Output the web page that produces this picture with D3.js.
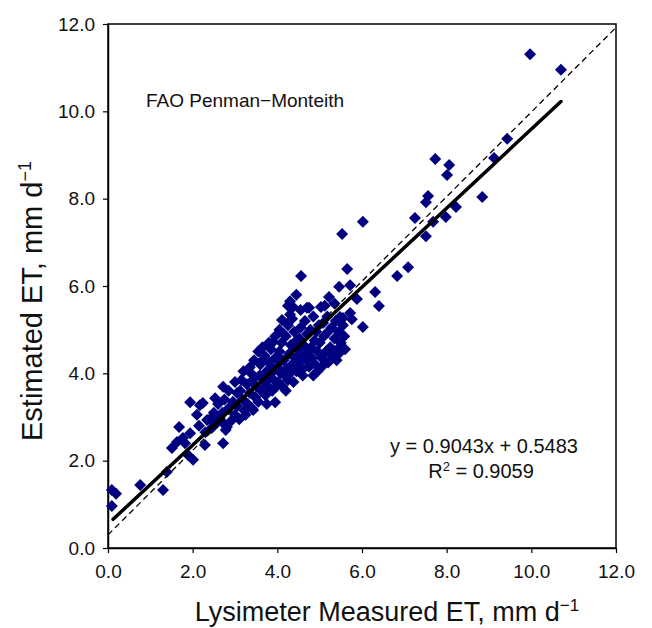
<!DOCTYPE html>
<html><head><meta charset="utf-8">
<script src="https://cdn.jsdelivr.net/npm/d3@7"></script>
<style>body{margin:0;background:#fff}svg{display:block}</style>
</head><body><svg id="chart" width="652" height="628"></svg>
<script>
// ---- data ----
const xTicks = [0, 2, 4, 6, 8, 10, 12];
const yTicks = [0, 2, 4, 6, 8, 10, 12];
const measuredET = [
  9.97,10.70,9.43,9.12,7.73,8.06,8.01,7.56,7.51,8.22,8.84,7.98,7.68,7.25,7.51,6.02,5.53,7.09,6.83,5.65,
  4.56,5.72,5.46,6.31,5.88,5.22,6.40,5.03,5.72,5.76,6.02,5.48,4.37,4.70,4.11,5.55,3.90,3.66,3.35,2.72,
  2.24,3.95,3.43,2.72,
  0.09,0.19,0.09,0.76,1.30,1.39,1.68,1.94,2.17,2.10,1.51,1.63,1.77,1.94,1.82,2.01,2.29,1.89,2.72,2.81,
  2.57,2.34,2.53,3.05,
  2.62,2.70,2.78,2.85,2.90,2.95,3.00,2.75,
  3.05,3.10,3.12,3.18,3.22,3.28,3.30,3.35,3.40,3.42,3.48,3.50,3.15,3.25,3.38,
  3.55,3.58,3.60,3.62,3.68,3.70,3.72,3.75,3.78,3.80,3.82,3.85,3.88,3.90,3.92,3.95,3.98,3.65,3.75,3.85,
  4.00,4.02,4.05,4.08,4.10,4.12,4.15,4.18,4.20,4.22,4.25,4.28,4.30,4.32,4.35,4.38,4.40,4.42,4.45,4.48,
  4.05,4.15,4.25,4.35,4.45,4.20,4.30,4.10,
  4.50,4.52,4.55,4.58,4.60,4.62,4.65,4.68,4.70,4.72,4.75,4.78,4.80,4.82,4.85,4.88,4.90,4.92,4.95,4.98,
  4.55,4.75,4.60,
  5.00,5.05,5.08,5.10,5.15,5.18,5.20,5.25,5.28,5.30,5.35,5.38,5.42,5.45,5.50,5.55,5.58,5.12,5.35,5.40,
  2.45,2.50,2.40,2.30,2.15,2.60,4.30,4.45,
  4.85,5.05,5.20,4.95,5.60,5.45,
  3.55,3.45,3.20,3.00,2.85,4.25,3.95,3.80
];
const estimatedET = [
  11.31,10.95,9.37,8.93,8.91,8.77,8.54,8.06,7.92,7.81,8.04,7.58,7.47,7.56,7.14,7.47,7.19,6.43,6.23,6.39,
  6.23,6.02,5.98,5.86,5.70,5.75,5.54,5.52,5.38,5.24,5.06,5.29,5.52,5.50,5.22,5.27,4.72,4.31,4.14,3.69,
  3.32,3.34,3.16,2.86,
  1.33,1.24,0.96,1.44,1.33,1.74,2.77,3.34,3.27,3.05,2.29,2.43,2.52,2.63,2.40,2.02,2.36,2.13,2.40,2.77,
  2.86,2.93,3.43,3.55,
  2.95,3.10,2.70,3.20,2.90,3.35,3.05,3.40,
  3.25,2.95,3.60,3.40,3.15,3.75,3.30,3.55,3.20,3.85,3.45,3.70,3.85,3.05,4.00,
  3.35,3.95,4.20,3.60,3.80,4.40,3.50,4.05,3.70,4.25,3.90,4.55,3.60,4.10,3.85,4.35,3.70,4.60,3.30,4.00,
  4.15,3.80,4.50,4.00,4.70,3.70,4.30,3.95,4.85,4.10,3.85,4.45,4.00,4.65,4.20,3.80,4.95,4.35,4.05,4.55,
  5.00,4.90,5.10,5.25,4.75,3.60,5.35,4.30,
  4.25,4.80,5.05,4.40,4.10,4.65,5.20,4.30,4.90,4.50,4.15,5.00,4.60,4.35,5.30,4.75,4.20,4.95,4.50,5.10,
  5.45,5.50,3.95,
  4.70,4.35,5.15,4.85,4.50,5.30,4.95,4.60,5.05,4.40,4.80,5.20,4.55,4.95,4.70,5.10,4.85,5.55,5.60,4.30,
  2.75,3.10,2.95,2.65,2.80,3.30,5.65,5.80,
  3.95,4.15,4.25,4.05,4.55,4.45,
  4.50,4.30,4.05,3.80,3.60,5.55,4.85,4.70
];
const fitSlope = 0.9043;
const fitIntercept = 0.5483;
const fitXRange = [0.12, 10.7];
const refLineX = [0, 12];
const refLineY = [0.3, 11.92];
const chartTitle = "FAO Penman\u2212Monteith";
const equationText = "y = 0.9043x + 0.5483";
const r2Value = "0.9059";

// ---- layout ----
const svg = d3.select("#chart");
const pL = 108, pR = 616, pT = 24, pB = 548;
const x = d3.scaleLinear().domain([0, 12]).range([pL, pR]);
const y = d3.scaleLinear().domain([0, 12]).range([pB, pT]);
const font = "'Liberation Sans', Arial, sans-serif";
const fmt = d3.format(".1f");

// frame
svg.append("rect").attr("x", pL).attr("y", pT)
  .attr("width", pR - pL).attr("height", pB - pT)
  .attr("fill", "none").attr("stroke", "#000").attr("stroke-width", 1.5);

// axes
const yAxis = svg.append("g").attr("transform", `translate(${pL},0)`)
  .call(d3.axisLeft(y).tickValues(yTicks).tickFormat(fmt).tickSize(5).tickPadding(8).tickSizeOuter(0));
const xAxis = svg.append("g").attr("transform", `translate(0,${pB})`)
  .call(d3.axisBottom(x).tickValues(xTicks).tickFormat(fmt).tickSize(5).tickPadding(12).tickSizeOuter(0));
[xAxis, yAxis].forEach(g => {
  g.select(".domain").attr("stroke", "#000").attr("stroke-width", 1.5);
  g.selectAll(".tick line").attr("stroke", "#000").attr("stroke-width", 1.2);
  g.selectAll(".tick text").attr("fill", "#111").style("font-family", font).style("font-size", "19px");
});

// points
const pts = measuredET.map((m, i) => [m, estimatedET[i]]);
svg.append("g").selectAll("path").data(pts).join("path")
  .attr("d", "M0,-6L6,0L0,6L-6,0Z")
  .attr("transform", d => `translate(${x(d[0])},${y(d[1])})`)
  .attr("fill", "#000080");

// 1:1 dashed line
svg.append("line")
  .attr("x1", x(refLineX[0])).attr("y1", y(refLineY[0]))
  .attr("x2", x(refLineX[1])).attr("y2", y(refLineY[1]))
  .attr("stroke", "#000").attr("stroke-width", 1.3).attr("stroke-dasharray", "6,4");

// regression line
svg.append("line")
  .attr("x1", x(fitXRange[0])).attr("y1", y(fitSlope * fitXRange[0] + fitIntercept))
  .attr("x2", x(fitXRange[1])).attr("y2", y(fitSlope * fitXRange[1] + fitIntercept))
  .attr("stroke", "#000").attr("stroke-width", 3.5).attr("stroke-linecap", "round");

// title inside plot
svg.append("text").attr("x", 146).attr("y", 107)
  .style("font-family", font).style("font-size", "19px").attr("fill", "#111")
  .text(chartTitle);

// equation
svg.append("text").attr("x", 484).attr("y", 453).attr("text-anchor", "middle")
  .style("font-family", font).style("font-size", "20px").attr("fill", "#111")
  .text(equationText);
const r2 = svg.append("text").attr("x", 481).attr("y", 478).attr("text-anchor", "middle")
  .style("font-family", font).style("font-size", "20px").attr("fill", "#111");
r2.append("tspan").text("R");
r2.append("tspan").attr("dy", -7).style("font-size", "13px").text("2");
r2.append("tspan").attr("dy", 7).text(" = " + r2Value);

// axis titles
const xt = svg.append("text").attr("x", 387).attr("y", 621).attr("text-anchor", "middle")
  .style("font-family", font).style("font-size", "27px").attr("fill", "#111");
xt.append("tspan").text("Lysimeter Measured ET, mm d");
xt.append("tspan").attr("dy", -10).style("font-size", "17px").text("\u22121");

const yt = svg.append("text").attr("transform", "translate(42,301) rotate(-90)").attr("text-anchor", "middle")
  .style("font-family", font).style("font-size", "29px").attr("fill", "#111");
yt.append("tspan").text("Estimated ET, mm d");
yt.append("tspan").attr("dy", -11).style("font-size", "18px").text("\u22121");
</script>
</body></html>
